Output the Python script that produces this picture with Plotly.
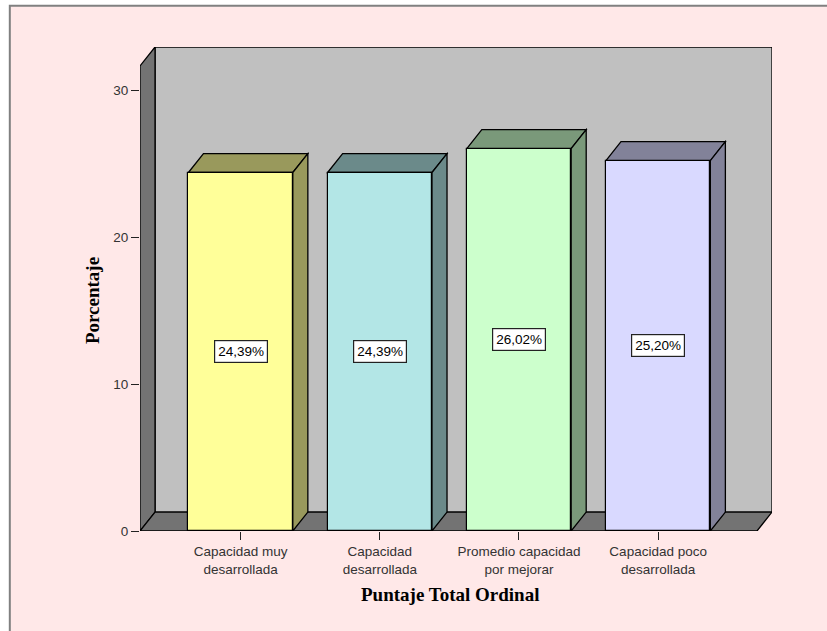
import plotly.graph_objects as go

# Chart data
categories = ["Capacidad muy<br>desarrollada", "Capacidad<br>desarrollada",
              "Promedio capacidad<br>por mejorar", "Capacidad poco<br>desarrollada"]
percentages = [24.39, 24.39, 26.02, 25.20]
front_colors = ["#FFFF99", "#B3E6E6", "#CCFFCC", "#D9D9FF"]
shade_colors = ["#99995C", "#6B8A8A", "#7A997A", "#828299"]
y_ticks = [0, 10, 20, 30]

# 3D box geometry (data units)
X_MIN, X_MAX = -0.723, 3.818
Y_MAX = 32.93
DX, DY = 0.108, 1.29          # depth offset of the box
BAR_W = 0.75
WALL = "#C0C0C0"
DARK = "#737373"
EDGE = dict(color="black", width=1.3)

fig = go.Figure()

fig.add_trace(go.Bar(
    x=list(range(len(categories))), y=percentages, width=BAR_W,
    marker=dict(color=front_colors, line=dict(color="black", width=1.2)),
    hoverinfo="skip", showlegend=False,
))

shapes = []
# page frame
shapes.append(dict(type="rect", xref="paper", yref="paper", layer="below",
                   x0=-0.206, x1=1.3, y0=-0.3, y1=1.085,
                   fillcolor="#FFE8E8", line=dict(color="#808080", width=2)))


def poly(pts):
    return "M " + " L ".join(f"{x},{y}" for x, y in pts) + " Z"


# back wall
shapes.append(dict(type="path", xref="x", yref="y", layer="below",
                   path=poly([(X_MIN + DX, DY), (X_MIN + DX, Y_MAX), (X_MAX, Y_MAX), (X_MAX, DY)]),
                   fillcolor=WALL, line=EDGE))
# left side wall
shapes.append(dict(type="path", xref="x", yref="y", layer="below",
                   path=poly([(X_MIN, 0), (X_MIN, Y_MAX - DY), (X_MIN + DX, Y_MAX), (X_MIN + DX, DY)]),
                   fillcolor=DARK, line=EDGE))
# floor
shapes.append(dict(type="path", xref="x", yref="y", layer="below",
                   path=poly([(X_MIN, 0), (X_MIN + DX, DY), (X_MAX, DY), (X_MAX - DX, 0)]),
                   fillcolor=DARK, line=EDGE))

# bar tops and right-hand sides
for i, (v, c) in enumerate(zip(percentages, shade_colors)):
    l, r = i - BAR_W / 2, i + BAR_W / 2
    shapes.append(dict(type="path", xref="x", yref="y", layer="below",
                       path=poly([(l, v), (l + DX, v + DY), (r + DX, v + DY), (r, v)]),
                       fillcolor=c, line=EDGE))
    shapes.append(dict(type="path", xref="x", yref="y", layer="below",
                       path=poly([(r, 0), (r + DX, DY), (r + DX, v + DY), (r, v)]),
                       fillcolor=c, line=EDGE))

annotations = []
for i, v in enumerate(percentages):
    annotations.append(dict(
        x=i, y=v / 2, xref="x", yref="y", showarrow=False,
        xanchor="center", yanchor="middle",
        text=f"{v:.2f}%".replace(".", ","),
        font=dict(family="Liberation Sans, Arial", size=13.5, color="black"),
        bgcolor="white", bordercolor="#222222", borderwidth=1.2, borderpad=3,
    ))

annotations.append(dict(x=-0.076, y=0.477, xref="paper", yref="paper", showarrow=False,
                        xanchor="center", yanchor="middle",
                        text="<b>Porcentaje</b>", textangle=-90,
                        font=dict(family="Liberation Serif, Times New Roman", size=19, color="black")))
annotations.append(dict(x=0.4905, y=-0.132, xref="paper", yref="paper", showarrow=False,
                        xanchor="center", yanchor="middle",
                        text="<b>Puntaje Total Ordinal</b>",
                        font=dict(family="Liberation Serif, Times New Roman", size=19, color="black")))

fig.update_layout(
    width=827, height=631,
    margin=dict(l=140, r=55, t=47, b=100, pad=0),
    paper_bgcolor="white", plot_bgcolor="rgba(0,0,0,0)",
    shapes=shapes, annotations=annotations,
    bargap=0, showlegend=False,
    font=dict(family="Liberation Sans, Arial", size=13, color="#333333"),
)
fig.update_xaxes(range=[X_MIN, X_MAX], tickvals=list(range(len(categories))), ticktext=categories,
                 ticks="outside", ticklen=8, tickwidth=1.3, tickcolor="#222222",
                 showgrid=False, zeroline=False, showline=False, fixedrange=True,
                 tickfont=dict(family="Liberation Sans, Arial", size=13.5, color="#333333"))
fig.update_yaxes(range=[0, Y_MAX], tickvals=y_ticks, ticktext=[str(t) for t in y_ticks],
                 ticks="outside", ticklen=8, tickwidth=1.3, tickcolor="#222222",
                 showgrid=False, zeroline=False, showline=False, fixedrange=True,
                 tickfont=dict(family="Liberation Sans, Arial", size=13.5, color="#333333"))

fig.write_html("out.html")
